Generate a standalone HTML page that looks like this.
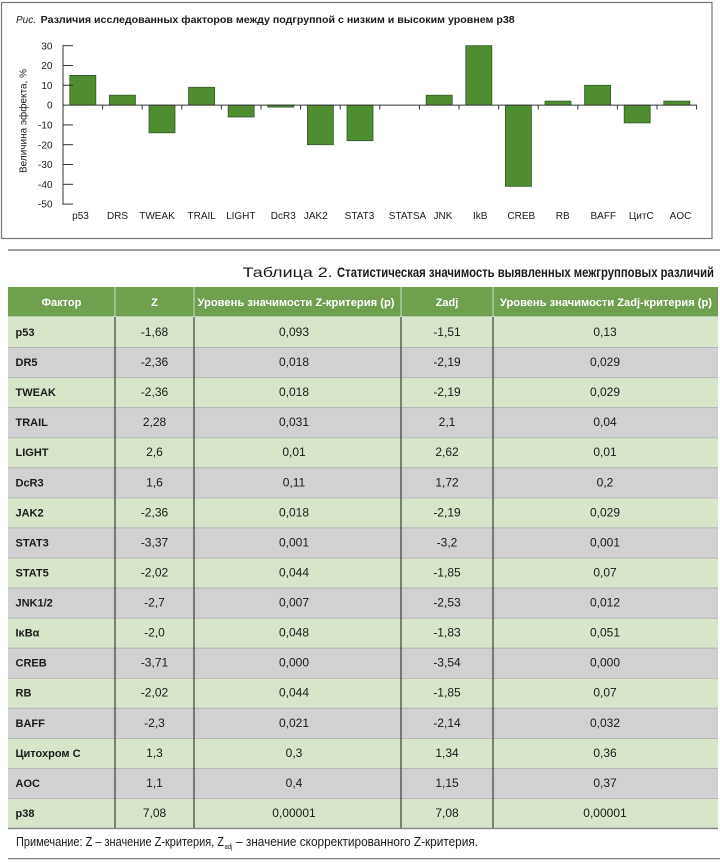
<!DOCTYPE html>
<html><head><meta charset="utf-8">
<style>
html,body{margin:0;padding:0;background:#fff;}
svg{display:block;}
text{font-family:"Liberation Sans","DejaVu Sans",sans-serif;fill:#1a1a1a;}
.tk{font-size:10px;}
.n{font-size:11px;font-weight:bold;}
.v{font-size:12px;text-anchor:middle;}
.h{font-size:11px;font-weight:bold;fill:#fff;text-anchor:middle;}
.g{fill:#d7e6cb;}
.s{fill:#d1d1d3;}
.bar{fill:#4f8d31;stroke:#34562a;stroke-width:0.8;}
</style></head>
<body>
<svg width="720" height="864" viewBox="0 0 720 864" xmlns="http://www.w3.org/2000/svg">
<!-- chart frame -->
<rect x="1.5" y="2.5" width="710.5" height="236" fill="none" stroke="#777" stroke-width="1.2"/>
<text y="23" font-size="10"><tspan x="16" font-style="italic">Рис.</tspan></text>
<text x="40.7" y="23" font-size="10" font-weight="bold" textLength="474" lengthAdjust="spacingAndGlyphs">Различия исследованных факторов между подгруппой с низким и высоким уровнем р38</text>

<!-- y axis title -->
<text class="tk" transform="translate(26.5,121) rotate(-90)" text-anchor="middle">Величина эффекта, %</text>

<!-- bars -->
<rect class="bar" x="69.8" y="75.4" width="26" height="29.7"/>
<rect class="bar" x="109.4" y="95.2" width="26" height="9.9"/>
<rect class="bar" x="149" y="105.1" width="26" height="27.7"/>
<rect class="bar" x="188.6" y="87.3" width="26" height="17.8"/>
<rect class="bar" x="228.2" y="105.1" width="26" height="11.9"/>
<rect class="bar" x="267.8" y="105.1" width="26" height="2"/>
<rect class="bar" x="307.4" y="105.1" width="26" height="39.6"/>
<rect class="bar" x="347" y="105.1" width="26" height="35.6"/>
<rect class="bar" x="426.2" y="95.2" width="26" height="9.9"/>
<rect class="bar" x="465.8" y="45.7" width="26" height="59.4"/>
<rect class="bar" x="505.4" y="105.1" width="26" height="81.2"/>
<rect class="bar" x="545" y="101.1" width="26" height="4"/>
<rect class="bar" x="584.6" y="85.3" width="26" height="19.8"/>
<rect class="bar" x="624.2" y="105.1" width="26" height="17.8"/>
<rect class="bar" x="663.8" y="101.1" width="26" height="4"/>

<!-- axes -->
<g stroke="#333" stroke-width="1" fill="none">
<line x1="63" y1="45.2" x2="63" y2="204.6"/>
<line x1="63" y1="105.1" x2="697" y2="105.1"/>
<line x1="63" y1="45.7" x2="73" y2="45.7"/>
<line x1="63" y1="65.5" x2="73" y2="65.5"/>
<line x1="63" y1="85.3" x2="73" y2="85.3"/>
<line x1="63" y1="124.9" x2="73" y2="124.9"/>
<line x1="63" y1="144.7" x2="73" y2="144.7"/>
<line x1="63" y1="164.5" x2="73" y2="164.5"/>
<line x1="63" y1="184.3" x2="73" y2="184.3"/>
<line x1="63" y1="204.1" x2="73" y2="204.1"/>
<line x1="102.6" y1="105" x2="102.6" y2="109.5"/>
<line x1="142.2" y1="105" x2="142.2" y2="109.5"/>
<line x1="181.8" y1="105" x2="181.8" y2="109.5"/>
<line x1="221.4" y1="105" x2="221.4" y2="109.5"/>
<line x1="261" y1="105" x2="261" y2="109.5"/>
<line x1="300.6" y1="105" x2="300.6" y2="109.5"/>
<line x1="340.2" y1="105" x2="340.2" y2="109.5"/>
<line x1="379.8" y1="105" x2="379.8" y2="109.5"/>
<line x1="419.4" y1="105" x2="419.4" y2="109.5"/>
<line x1="459" y1="105" x2="459" y2="109.5"/>
<line x1="498.6" y1="105" x2="498.6" y2="109.5"/>
<line x1="538.2" y1="105" x2="538.2" y2="109.5"/>
<line x1="577.8" y1="105" x2="577.8" y2="109.5"/>
<line x1="617.4" y1="105" x2="617.4" y2="109.5"/>
<line x1="657" y1="105" x2="657" y2="109.5"/>
<line x1="696.6" y1="105" x2="696.6" y2="109.5"/>
</g>

<!-- y tick labels -->
<g class="tk" text-anchor="end">
<text class="tk" x="52.5" y="49.3">30</text>
<text class="tk" x="52.5" y="69.1">20</text>
<text class="tk" x="52.5" y="88.9">10</text>
<text class="tk" x="52.5" y="108.7">0</text>
<text class="tk" x="52.5" y="128.5">-10</text>
<text class="tk" x="52.5" y="148.3">-20</text>
<text class="tk" x="52.5" y="168.1">-30</text>
<text class="tk" x="52.5" y="187.9">-40</text>
<text class="tk" x="52.5" y="207.7">-50</text>
</g>

<!-- x labels -->
<g class="tk" text-anchor="middle">
<text class="tk" x="80.5" y="219">p53</text>
<text class="tk" x="117.5" y="219">DRS</text>
<text class="tk" x="157" y="219">TWEAK</text>
<text class="tk" x="201.7" y="219">TRAIL</text>
<text class="tk" x="240.8" y="219">LIGHT</text>
<text class="tk" x="283.3" y="219">DcR3</text>
<text class="tk" x="315.8" y="219">JAK2</text>
<text class="tk" x="359.5" y="219">STAT3</text>
<text class="tk" x="407.5" y="219">STATSA</text>
<text class="tk" x="443" y="219">JNK</text>
<text class="tk" x="480.2" y="219">IkB</text>
<text class="tk" x="521.3" y="219">CREB</text>
<text class="tk" x="562.7" y="219">RB</text>
<text class="tk" x="603.3" y="219">BAFF</text>
<text class="tk" x="641.3" y="219">ЦитC</text>
<text class="tk" x="680.5" y="219">AOC</text>
</g>

<!-- separator line -->
<line x1="8" y1="250" x2="720" y2="250" stroke="#666" stroke-width="1.2"/>

<!-- caption -->
<text x="242.7" y="277" font-size="14" fill="#333" textLength="90" lengthAdjust="spacingAndGlyphs">Таблица 2.</text>
<text x="337" y="277" font-size="14" font-weight="bold" textLength="377" lengthAdjust="spacingAndGlyphs">Статистическая значимость выявленных межгрупповых различий</text>

<!-- table header -->
<rect x="8" y="287" width="710" height="29.5" fill="#6ea04e"/>
<g stroke="#cfe0bf" stroke-width="1">
<line x1="115" y1="287" x2="115" y2="316.5"/>
<line x1="194" y1="287" x2="194" y2="316.5"/>
<line x1="401" y1="287" x2="401" y2="316.5"/>
<line x1="493" y1="287" x2="493" y2="316.5"/>
</g>
<text class="h" x="61.5" y="306">Фактор</text>
<text class="h" x="154.5" y="306">Z</text>
<text class="h" x="296" y="306" textLength="197" lengthAdjust="spacingAndGlyphs">Уровень значимости Z-критерия (p)</text>
<text class="h" x="447" y="306">Zadj</text>
<text class="h" x="606" y="306" textLength="212" lengthAdjust="spacingAndGlyphs">Уровень значимости Zadj-критерия (p)</text>

<!-- rows -->
<g transform="translate(0,317)"><rect class="g" x="8" width="710" height="30.06"/><text class="n" x="15.5" y="19">p53</text><text class="v" x="154.5" y="19">-1,68</text><text class="v" x="294" y="19">0,093</text><text class="v" x="447" y="19">-1,51</text><text class="v" x="605" y="19">0,13</text></g>
<g transform="translate(0,347.06)"><rect class="s" x="8" width="710" height="30.06"/><line x1="8" x2="718" y1="0.5" y2="0.5" stroke="#b3b3b3"/><text class="n" x="15.5" y="19">DR5</text><text class="v" x="154.5" y="19">-2,36</text><text class="v" x="294" y="19">0,018</text><text class="v" x="447" y="19">-2,19</text><text class="v" x="605" y="19">0,029</text></g>
<g transform="translate(0,377.12)"><rect class="g" x="8" width="710" height="30.06"/><line x1="8" x2="718" y1="0.5" y2="0.5" stroke="#b3b3b3"/><text class="n" x="15.5" y="19">TWEAK</text><text class="v" x="154.5" y="19">-2,36</text><text class="v" x="294" y="19">0,018</text><text class="v" x="447" y="19">-2,19</text><text class="v" x="605" y="19">0,029</text></g>
<g transform="translate(0,407.18)"><rect class="s" x="8" width="710" height="30.06"/><line x1="8" x2="718" y1="0.5" y2="0.5" stroke="#b3b3b3"/><text class="n" x="15.5" y="19">TRAIL</text><text class="v" x="154.5" y="19">2,28</text><text class="v" x="294" y="19">0,031</text><text class="v" x="447" y="19">2,1</text><text class="v" x="605" y="19">0,04</text></g>
<g transform="translate(0,437.24)"><rect class="g" x="8" width="710" height="30.06"/><line x1="8" x2="718" y1="0.5" y2="0.5" stroke="#b3b3b3"/><text class="n" x="15.5" y="19">LIGHT</text><text class="v" x="154.5" y="19">2,6</text><text class="v" x="294" y="19">0,01</text><text class="v" x="447" y="19">2,62</text><text class="v" x="605" y="19">0,01</text></g>
<g transform="translate(0,467.3)"><rect class="s" x="8" width="710" height="30.06"/><line x1="8" x2="718" y1="0.5" y2="0.5" stroke="#b3b3b3"/><text class="n" x="15.5" y="19">DcR3</text><text class="v" x="154.5" y="19">1,6</text><text class="v" x="294" y="19">0,11</text><text class="v" x="447" y="19">1,72</text><text class="v" x="605" y="19">0,2</text></g>
<g transform="translate(0,497.36)"><rect class="g" x="8" width="710" height="30.06"/><line x1="8" x2="718" y1="0.5" y2="0.5" stroke="#b3b3b3"/><text class="n" x="15.5" y="19">JAK2</text><text class="v" x="154.5" y="19">-2,36</text><text class="v" x="294" y="19">0,018</text><text class="v" x="447" y="19">-2,19</text><text class="v" x="605" y="19">0,029</text></g>
<g transform="translate(0,527.42)"><rect class="s" x="8" width="710" height="30.06"/><line x1="8" x2="718" y1="0.5" y2="0.5" stroke="#b3b3b3"/><text class="n" x="15.5" y="19">STAT3</text><text class="v" x="154.5" y="19">-3,37</text><text class="v" x="294" y="19">0,001</text><text class="v" x="447" y="19">-3,2</text><text class="v" x="605" y="19">0,001</text></g>
<g transform="translate(0,557.48)"><rect class="g" x="8" width="710" height="30.06"/><line x1="8" x2="718" y1="0.5" y2="0.5" stroke="#b3b3b3"/><text class="n" x="15.5" y="19">STAT5</text><text class="v" x="154.5" y="19">-2,02</text><text class="v" x="294" y="19">0,044</text><text class="v" x="447" y="19">-1,85</text><text class="v" x="605" y="19">0,07</text></g>
<g transform="translate(0,587.54)"><rect class="s" x="8" width="710" height="30.06"/><line x1="8" x2="718" y1="0.5" y2="0.5" stroke="#b3b3b3"/><text class="n" x="15.5" y="19">JNK1/2</text><text class="v" x="154.5" y="19">-2,7</text><text class="v" x="294" y="19">0,007</text><text class="v" x="447" y="19">-2,53</text><text class="v" x="605" y="19">0,012</text></g>
<g transform="translate(0,617.6)"><rect class="g" x="8" width="710" height="30.06"/><line x1="8" x2="718" y1="0.5" y2="0.5" stroke="#b3b3b3"/><text class="n" x="15.5" y="19">IκBα</text><text class="v" x="154.5" y="19">-2,0</text><text class="v" x="294" y="19">0,048</text><text class="v" x="447" y="19">-1,83</text><text class="v" x="605" y="19">0,051</text></g>
<g transform="translate(0,647.66)"><rect class="s" x="8" width="710" height="30.06"/><line x1="8" x2="718" y1="0.5" y2="0.5" stroke="#b3b3b3"/><text class="n" x="15.5" y="19">CREB</text><text class="v" x="154.5" y="19">-3,71</text><text class="v" x="294" y="19">0,000</text><text class="v" x="447" y="19">-3,54</text><text class="v" x="605" y="19">0,000</text></g>
<g transform="translate(0,677.72)"><rect class="g" x="8" width="710" height="30.06"/><line x1="8" x2="718" y1="0.5" y2="0.5" stroke="#b3b3b3"/><text class="n" x="15.5" y="19">RB</text><text class="v" x="154.5" y="19">-2,02</text><text class="v" x="294" y="19">0,044</text><text class="v" x="447" y="19">-1,85</text><text class="v" x="605" y="19">0,07</text></g>
<g transform="translate(0,707.78)"><rect class="s" x="8" width="710" height="30.06"/><line x1="8" x2="718" y1="0.5" y2="0.5" stroke="#b3b3b3"/><text class="n" x="15.5" y="19">BAFF</text><text class="v" x="154.5" y="19">-2,3</text><text class="v" x="294" y="19">0,021</text><text class="v" x="447" y="19">-2,14</text><text class="v" x="605" y="19">0,032</text></g>
<g transform="translate(0,737.84)"><rect class="g" x="8" width="710" height="30.06"/><line x1="8" x2="718" y1="0.5" y2="0.5" stroke="#b3b3b3"/><text class="n" x="15.5" y="19">Цитохром С</text><text class="v" x="154.5" y="19">1,3</text><text class="v" x="294" y="19">0,3</text><text class="v" x="447" y="19">1,34</text><text class="v" x="605" y="19">0,36</text></g>
<g transform="translate(0,767.9)"><rect class="s" x="8" width="710" height="30.06"/><line x1="8" x2="718" y1="0.5" y2="0.5" stroke="#b3b3b3"/><text class="n" x="15.5" y="19">AOC</text><text class="v" x="154.5" y="19">1,1</text><text class="v" x="294" y="19">0,4</text><text class="v" x="447" y="19">1,15</text><text class="v" x="605" y="19">0,37</text></g>
<g transform="translate(0,797.96)"><rect class="g" x="8" width="710" height="30.06"/><line x1="8" x2="718" y1="0.5" y2="0.5" stroke="#b3b3b3"/><text class="n" x="15.5" y="19">p38</text><text class="v" x="154.5" y="19">7,08</text><text class="v" x="294" y="19">0,00001</text><text class="v" x="447" y="19">7,08</text><text class="v" x="605" y="19">0,00001</text></g>

<!-- body vertical separators -->
<g stroke="#3c3c3c" stroke-width="1.2">
<line x1="115" y1="317" x2="115" y2="828"/>
<line x1="194" y1="317" x2="194" y2="828"/>
<line x1="401" y1="317" x2="401" y2="828"/>
<line x1="493" y1="317" x2="493" y2="828"/>
</g>
<line x1="8" y1="828.5" x2="718" y2="828.5" stroke="#8a8a8a" stroke-width="1.6"/>

<!-- note -->
<text x="16" y="846" font-size="12.5" textLength="208" lengthAdjust="spacingAndGlyphs">Примечание: Z – значение Z-критерия, Z</text>
<text x="224.5" y="849" font-size="7" textLength="8" lengthAdjust="spacingAndGlyphs">adj</text>
<text x="236" y="846" font-size="12.5" textLength="242" lengthAdjust="spacingAndGlyphs">– значение скорректированного Z-критерия.</text>
<line x1="8" y1="858.7" x2="720" y2="858.7" stroke="#777" stroke-width="1.2"/>
</svg>
</body></html>
